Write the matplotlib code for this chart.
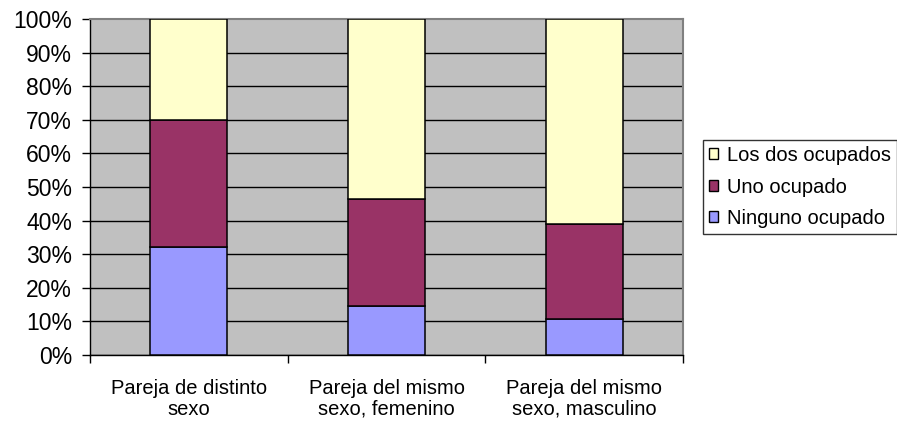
import numpy as np
import matplotlib
matplotlib.use("Agg")
import matplotlib.pyplot as plt
from matplotlib.ticker import FixedLocator, PercentFormatter

plt.rcParams['font.family'] = ['Liberation Sans', 'DejaVu Sans']

categorias = ["Pareja de distinto\nsexo",
              "Pareja del mismo\nsexo, femenino",
              "Pareja del mismo\nsexo, masculino"]
ninguno = np.array([32.0, 14.7, 10.7])
uno = np.array([38.0, 31.7, 28.4])
los_dos = np.array([30.0, 53.6, 60.9])

series = ["Ninguno ocupado", "Uno ocupado", "Los dos ocupados"]
colores = ["#9999FF", "#993366", "#FFFFCC"]

fig = plt.figure(figsize=(8.97, 4.21), dpi=100)
ax = fig.add_axes([90 / 897, 66 / 421, 593 / 897, 336 / 421])
ax.set_facecolor("#C0C0C0")

x = np.arange(len(categorias))
base = np.zeros(len(categorias))
barras = []
for vals, nombre, col in zip([ninguno, uno, los_dos], series, colores):
    b = ax.bar(x, vals, 0.39, bottom=base, color=col, edgecolor="black",
               linewidth=1.1, label=nombre, zorder=3)
    barras.append(b)
    base = base + vals

ax.set_xlim(-0.5, len(categorias) - 0.5)
ax.set_ylim(0, 100)

# eje y: porcentajes cada 10%
ax.set_yticks(np.arange(0, 101, 10))
ax.yaxis.set_major_formatter(PercentFormatter(decimals=0))
ax.yaxis.grid(True, color="black", linewidth=1.0, zorder=1)
ax.get_ygridlines()[-1].set_visible(False)
ax.set_axisbelow(True)
ax.tick_params(axis="y", direction="out", length=6, width=1.0,
               pad=7, labelsize=16.5, colors="black")

# eje x: marcas entre categorias, etiquetas centradas
ax.xaxis.set_major_locator(FixedLocator(np.arange(-0.5, len(categorias), 1.0)))
ax.xaxis.set_minor_locator(FixedLocator(x))
ax.set_xticklabels([], minor=False)
ax.set_xticklabels(categorias, minor=True, linespacing=1.15)
ax.tick_params(axis="x", which="major", direction="out", length=6, width=1.0)
ax.tick_params(axis="x", which="minor", length=0, pad=17, labelsize=14.5)

for s in ["left", "bottom"]:
    ax.spines[s].set_color("black")
    ax.spines[s].set_linewidth(1.0)
for s in ["top", "right"]:
    ax.spines[s].set_color("#808080")
    ax.spines[s].set_linewidth(1.5)

leg = ax.legend(handles=barras[::-1], loc="upper left",
                bbox_to_anchor=(703 / 897, 1 - 140 / 421),
                bbox_transform=fig.transFigure,
                fontsize=14.5, frameon=True, fancybox=False,
                edgecolor="black", handlelength=0.45, handleheight=0.45,
                handletextpad=0.45, labelspacing=0.62, borderpad=0.3,
                borderaxespad=0)
leg.get_frame().set_linewidth(1.0)
for h in leg.legend_handles:
    h.set_linewidth(1.0)

fig.savefig("out.png", dpi=100)
